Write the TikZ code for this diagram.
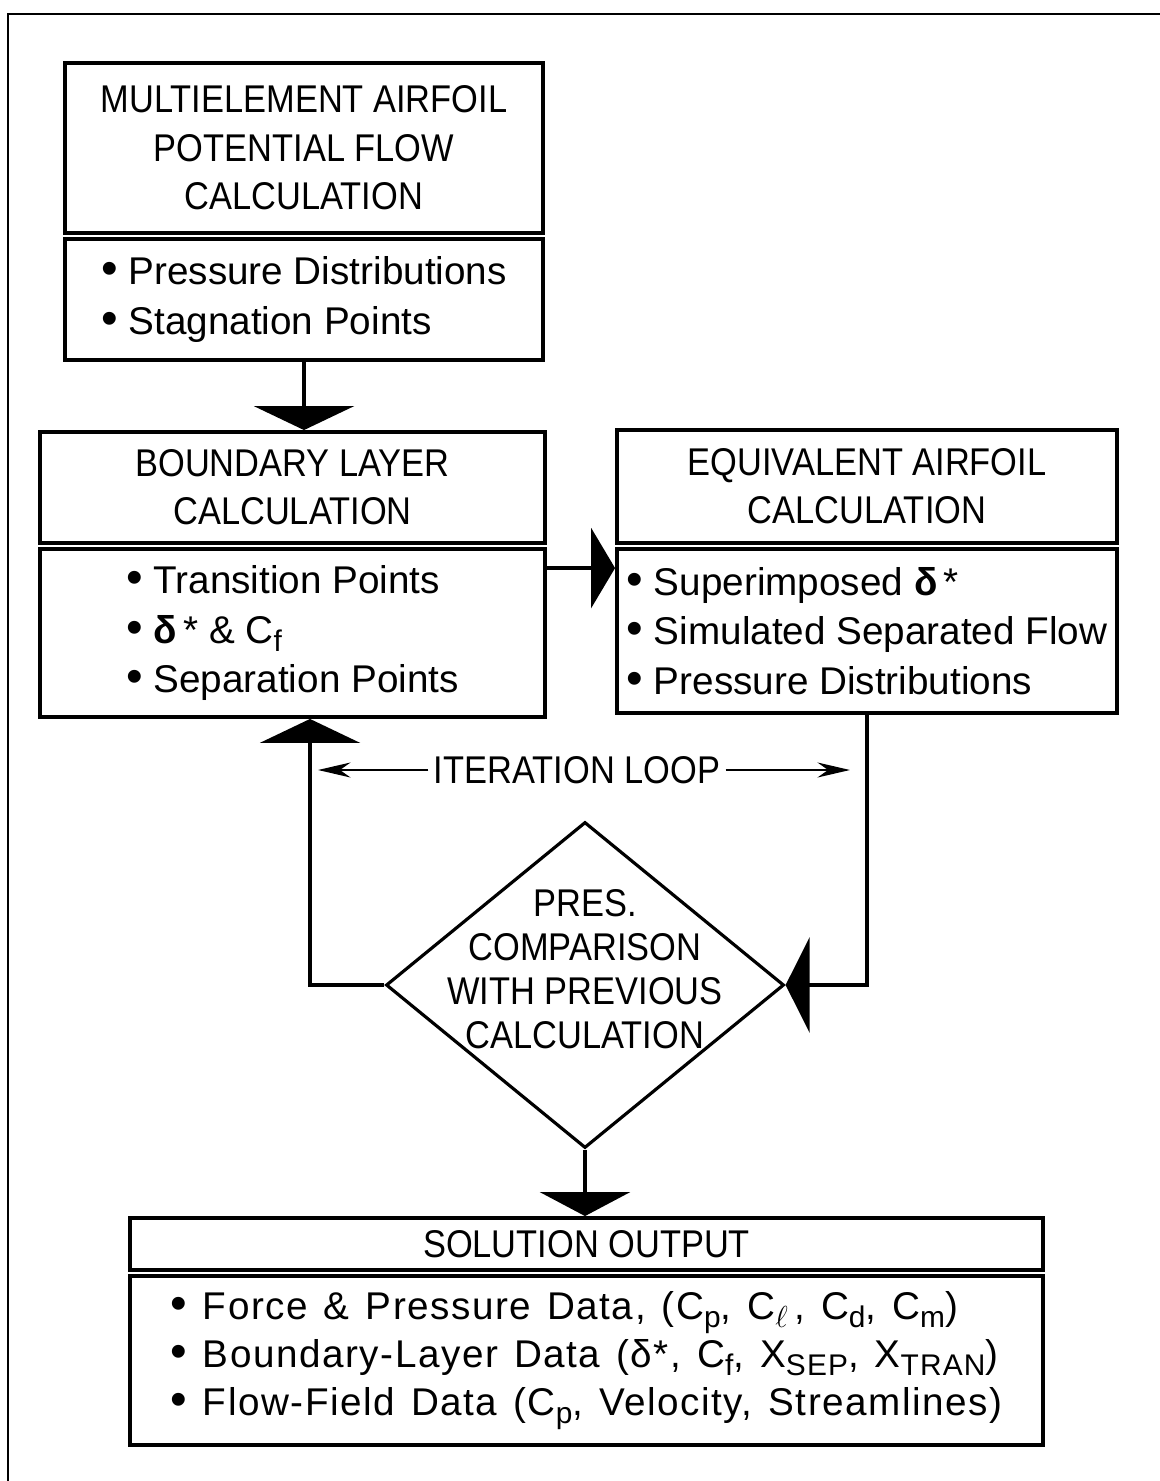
\documentclass[tikz,border=0pt]{standalone}
\usepackage{fontspec}
\setmainfont{Liberation Sans}
\newfontfamily\capsfont{Liberation Sans}[FakeStretch=0.89]
\newfontfamily\widefont{Liberation Sans}[LetterSpace=4,WordSpace=1.3]
\usetikzlibrary{arrows.meta,shapes.geometric}
\newcommand\bul{{\fontsize{27}{27}\selectfont\textbullet}\ }
\newcommand\lo[1]{\raisebox{-0.4ex}{\fontsize{17}{17}\selectfont #1}}
\tikzset{
  hbox/.style={draw, line width=2.2pt, align=center, inner sep=0pt,
               font=\capsfont\fontsize{22}{27.5}\selectfont},
  bbox/.style={draw, line width=2.2pt, align=left, inner sep=0pt,
               font=\fontsize{22}{28}\selectfont},
  cmpd/.style={diamond, draw, line width=1.8pt, inner sep=0pt},
  dtext/.style={align=center, inner sep=0pt,
                font=\capsfont\fontsize{22}{25}\selectfont},
  bigarr/.style={-{Triangle[width=#1,length=0.48cm]}, line width=2.2pt},
  bigarr/.default=2cm,
  thinarr/.style={-{Stealth[length=0.65cm,width=0.3cm]}, line width=1.1pt},
  frame/.style={line width=1.6pt},
}

\begin{document}
\begin{tikzpicture}
\useasboundingbox (0,0) rectangle (23.18,-29.62);
\draw[frame] (0.16,-30) -- (0.16,-0.28) -- (24,-0.28);

\node[hbox, minimum width=9.56cm, minimum height=3.40cm] (poth) at (6.08,-2.96)
  {MULTIELEMENT AIRFOIL\\POTENTIAL FLOW\\CALCULATION};
\node[bbox, minimum width=9.56cm, minimum height=2.42cm] (potb) at (6.08,-5.99)
  {\bul Pressure Distributions\\\bul Stagnation Points};

\node[hbox, minimum width=10.10cm, minimum height=2.22cm] (blch) at (5.85,-9.75)
  {BOUNDARY LAYER\\CALCULATION};
\node[bbox, minimum width=10.10cm, minimum height=3.36cm] (blcb) at (5.85,-12.66)
  {\bul Transition Points\\\bul \textbf{δ}\,* \& C\lo{f}\\\bul Separation Points};

\node[hbox, minimum width=10.00cm, minimum height=2.26cm] (eqvh) at (17.34,-9.73)
  {EQUIVALENT AIRFOIL\\CALCULATION};
\node[bbox, minimum width=10.00cm, minimum height=3.28cm] (eqvb) at (17.34,-12.62)
  {\bul Superimposed \textbf{δ}\,*\\\bul Simulated Separated Flow\\\bul Pressure Distributions};

\node[font=\capsfont\fontsize{22}{27.5}\selectfont, inner sep=3pt] (iter) at (11.54,-15.40) {ITERATION LOOP};
\coordinate (itl) at (6.36,-15.40);
\coordinate (itr) at (17.00,-15.40);

\node[cmpd, minimum width=7.96cm, minimum height=6.52cm] (cmp) at (11.70,-19.70) {};
\node[dtext] (cmpt) at (11.70,-19.38)
  {PRES.\\COMPARISON\\WITH PREVIOUS\\CALCULATION};

\node[hbox, minimum width=18.26cm, minimum height=1.04cm] (solh) at (11.73,-24.88)
  {SOLUTION OUTPUT};
\node[bbox, minimum width=18.26cm, minimum height=3.38cm, font=\widefont\fontsize{22}{27.5}\selectfont] (solb) at (11.73,-27.21)
  {\bul Force \& Pressure Data, (C\lo{p}, C\lo{$\ell$}\,, C\lo{d}, C\lo{m})\\
   \bul Boundary-Layer Data (δ*, C\lo{f}, X\lo{SEP}, X\lo{TRAN})\\
   \bul Flow-Field Data (C\lo{p}, Velocity, Streamlines)};

\coordinate (bl2) at ([yshift=-0.42cm]blcb.north east);
\draw[bigarr] (potb.south) -- (potb.south |- blch.north);
\draw[bigarr=1.6cm] (bl2) -- (bl2 -| eqvb.west);
\draw[bigarr] (cmp.west) -| ([xshift=0.35cm]blcb.south);
\draw[bigarr=1.9cm] (eqvb.south) |- (cmp.east);
\draw[bigarr=1.8cm] (cmp.south) -- (cmp.south |- solh.north);
\draw[thinarr] (iter.west) -- (itl);
\draw[thinarr] (iter.east) -- (itr);
\end{tikzpicture}
\end{document}
